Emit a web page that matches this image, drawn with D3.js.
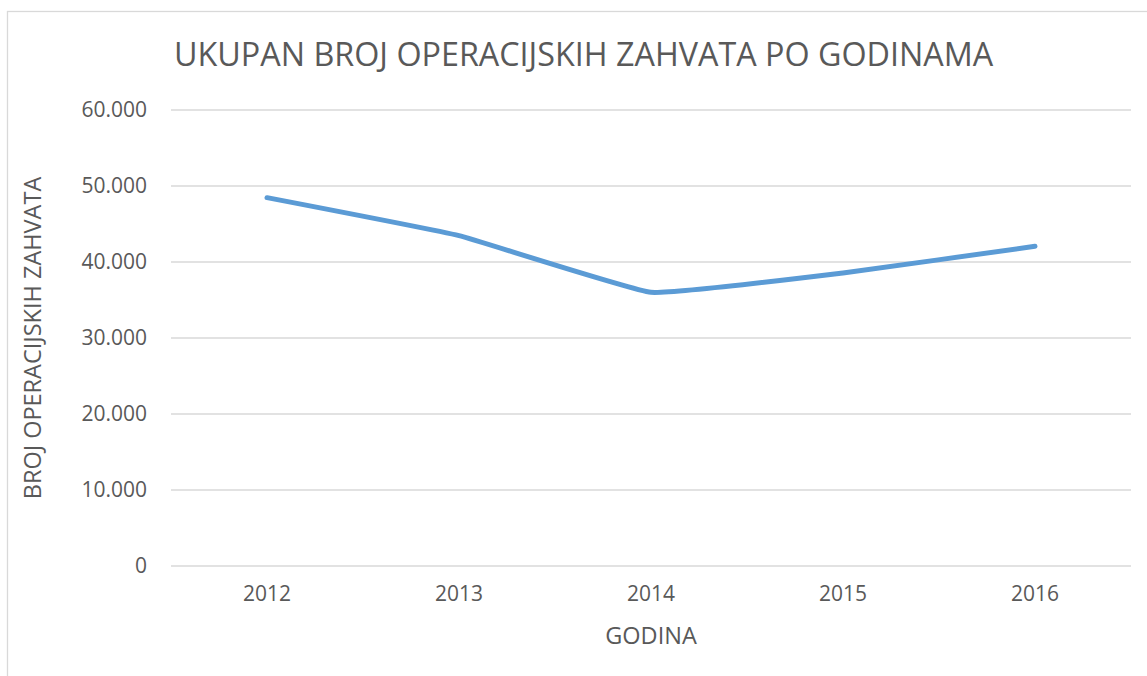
<!DOCTYPE html>
<html>
<head>
<meta charset="utf-8">
<script src="https://cdn.jsdelivr.net/npm/d3@7"></script>
<style>
  html, body { margin: 0; padding: 0; background: #fff; }
  svg { display: block; }
  text { font-family: "Open Sans", sans-serif; fill: #595959; }
</style>
</head>
<body>
<svg id="chart" width="1147" height="676"></svg>
<script>
const years = ["2012", "2013", "2014", "2015", "2016"];
const values = [48400, 43400, 35950, 38500, 42000];
const yTicks = [0, 10000, 20000, 30000, 40000, 50000, 60000];
const chartTitle = "UKUPAN BROJ OPERACIJSKIH ZAHVATA PO GODINAMA";
const xTitle = "GODINA";
const yTitle = "BROJ OPERACIJSKIH ZAHVATA";

const svg = d3.select("#chart");
const W = 1147, H = 676;
const m = { left: 171, right: 16, top: 109.5, bottom: 110.5 };

// outer chart border
svg.append("rect")
  .attr("x", 7.5).attr("y", 11.5)
  .attr("width", W + 20).attr("height", H + 20)
  .attr("fill", "none").attr("stroke", "#d9d9d9").attr("stroke-width", 1.3);

const x = d3.scaleBand().domain(years).range([m.left, W - m.right]);
const y = d3.scaleLinear().domain([0, 60000]).range([H - m.bottom, m.top]);

const fmt = v => v === 0 ? "0" : d3.format(",")(v).replace(/,/g, ".");

// gridlines + y axis labels
const yAxis = d3.axisLeft(y).tickValues(yTicks).tickFormat(fmt)
  .tickSize(-(W - m.right - m.left)).tickPadding(24);
const gy = svg.append("g").attr("transform", `translate(${m.left},0)`).call(yAxis);
gy.select(".domain").remove();
gy.selectAll(".tick line").attr("stroke", "#d9d9d9").attr("stroke-width", 1.5);
gy.selectAll(".tick text").attr("font-size", 21).attr("fill", "#595959")
  .style("font-family", "'Open Sans', sans-serif");

// x axis labels
const xAxis = d3.axisBottom(x).tickSize(0).tickPadding(21);
const gx = svg.append("g").attr("transform", `translate(0,${H - m.bottom})`).call(xAxis);
gx.select(".domain").remove();
gx.selectAll(".tick text").attr("font-size", 21).attr("fill", "#595959")
  .style("font-family", "'Open Sans', sans-serif");

// line
const line = d3.line()
  .x((d, i) => x(years[i]) + x.bandwidth() / 2)
  .y(d => y(d))
  .curve(d3.curveCardinal.tension(0.7));
svg.append("path").datum(values)
  .attr("d", line)
  .attr("fill", "none").attr("stroke", "#5b9bd5")
  .attr("stroke-width", 5).attr("stroke-linecap", "round").attr("stroke-linejoin", "round");

// titles
svg.append("text").attr("x", 174).attr("y", 66)
  .attr("font-size", 32.3).text(chartTitle);

svg.append("text").attr("x", (m.left + W - m.right) / 2).attr("y", 644)
  .attr("text-anchor", "middle").attr("font-size", 23.5).text(xTitle);

svg.append("text")
  .attr("transform", `translate(41,338) rotate(-90)`)
  .attr("text-anchor", "middle").attr("font-size", 23.5).text(yTitle);
</script>
</body>
</html>
